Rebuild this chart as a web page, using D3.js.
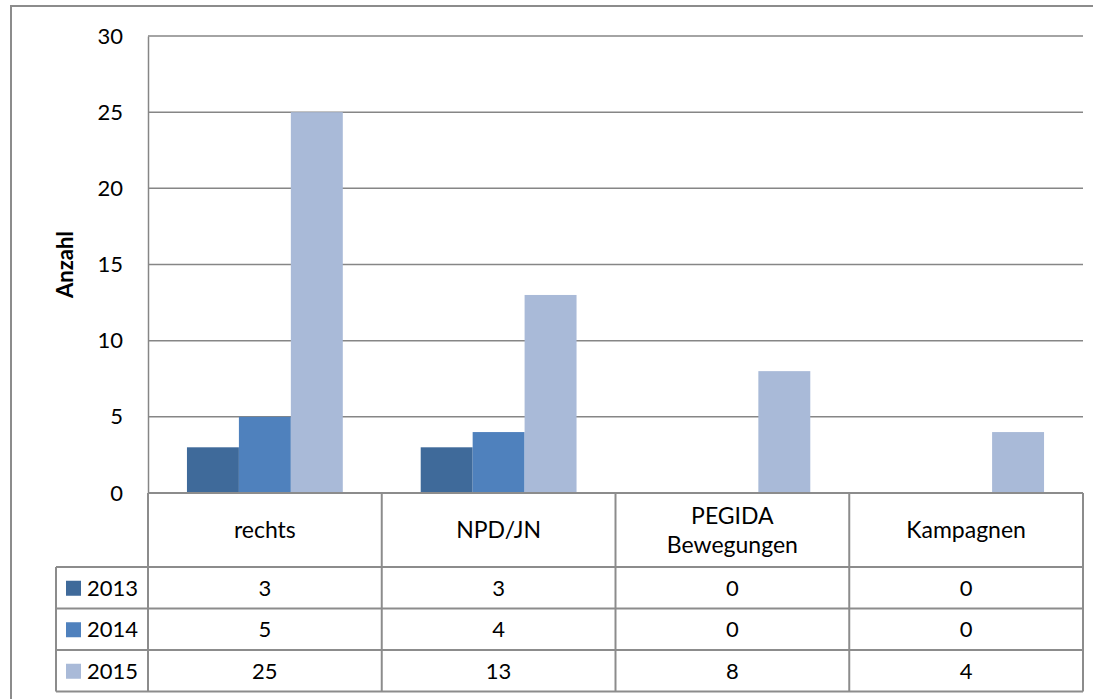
<!DOCTYPE html>
<html>
<head>
<meta charset="utf-8">
<script src="https://cdn.jsdelivr.net/npm/d3@7"></script>
<style>
  body { margin: 0; background: #fff; }
  text { font-family: Lato, "Open Sans", sans-serif; fill: #000; }
</style>
</head>
<body>
<div id="chart"></div>
<script>
var categories = ["rechts", "NPD/JN", "PEGIDA\nBewegungen", "Kampagnen"];
var years = ["2013", "2014", "2015"];
var v2013 = [3, 3, 0, 0];
var v2014 = [5, 4, 0, 0];
var v2015 = [25, 13, 8, 4];
var yTicks = [0, 5, 10, 15, 20, 25, 30];
var colors = ["#3f6a9a", "#4f81bd", "#a9bad8"];

var series = [v2013, v2014, v2015];
var width = 1093, height = 699;
var plotL = 148, plotR = 1083, plotT = 36, plotB = 493;
var rowH = [74, 41.5, 41.5, 41.5];
var fs = "22px";

var svg = d3.select("#chart").append("svg")
    .attr("width", width)
    .attr("height", height);

// chart border (runs off the page on the right and bottom)
svg.append("rect")
    .attr("x", 11).attr("y", 6)
    .attr("width", 1100).attr("height", 720)
    .attr("fill", "none").attr("stroke", "#8c8c8c").attr("stroke-width", 2);

var y = d3.scaleLinear().domain([0, 30]).range([plotB, plotT]);
var x0 = d3.scaleBand().domain(d3.range(categories.length)).range([plotL, plotR]);
var x1 = d3.scaleBand().domain(d3.range(years.length))
    .range([0, x0.bandwidth()]).paddingOuter(0.75).paddingInner(0);

// gridlines
svg.append("g").selectAll("line")
    .data(yTicks.filter(function(d) { return d > 0; }))
  .enter().append("line")
    .attr("x1", plotL).attr("x2", plotR)
    .attr("y1", function(d) { return y(d); })
    .attr("y2", function(d) { return y(d); })
    .attr("stroke", "#868686").attr("stroke-width", 1.5);

// bars
var groups = svg.append("g").selectAll("g")
    .data(series)
  .enter().append("g")
    .attr("fill", function(d, i) { return colors[i]; });

groups.each(function(vals, si) {
  d3.select(this).selectAll("rect")
      .data(vals)
    .enter().append("rect")
      .attr("x", function(d, ci) { return x0(ci) + x1(si); })
      .attr("width", x1.bandwidth())
      .attr("y", function(d) { return y(d); })
      .attr("height", function(d) { return y(0) - y(d); });
});

// y axis
var yAxis = d3.axisLeft(y).tickValues(yTicks).tickSize(0).tickPadding(25);
var ga = svg.append("g").attr("transform", "translate(" + plotL + ",0)").call(yAxis);
ga.select(".domain").attr("stroke", "#868686").attr("stroke-width", 1.5);
ga.selectAll("text").style("font-size", fs).style("font-family", "Lato, sans-serif").attr("fill", "#000");

svg.append("text")
    .attr("transform", "translate(73," + ((plotT + plotB) / 2) + ") rotate(-90)")
    .attr("text-anchor", "middle")
    .style("font-size", "22px").style("font-weight", "bold")
    .text("Anzahl");

// data table
var t = svg.append("g").attr("stroke", "#8c8c8c").attr("stroke-width", 2).attr("fill", "none");
var rowY = [plotB];
rowH.forEach(function(h, i) { rowY.push(rowY[i] + h); });

d3.range(categories.length + 1).forEach(function(i) {
  var xx = i < categories.length ? x0(i) : plotR;
  t.append("line").attr("x1", xx).attr("x2", xx).attr("y1", plotB).attr("y2", rowY[4]);
});
t.append("line").attr("x1", plotL).attr("x2", plotR).attr("y1", plotB).attr("y2", plotB);
[1, 2, 3, 4].forEach(function(r) {
  t.append("line").attr("x1", 56).attr("x2", plotR).attr("y1", rowY[r]).attr("y2", rowY[r]);
});
t.append("line").attr("x1", 56).attr("x2", 56).attr("y1", rowY[1]).attr("y2", rowY[4]);

// category labels
categories.forEach(function(c, i) {
  var lines = c.split("\n");
  var cx = x0(i) + x0.bandwidth() / 2;
  var cy = plotB + rowH[0] / 2;
  var tx = svg.append("text").attr("text-anchor", "middle").style("font-size", "23px");
  lines.forEach(function(l, k) {
    tx.append("tspan").attr("x", cx)
      .attr("y", cy + 8 + (k - (lines.length - 1) / 2) * 29)
      .text(l);
  });
});

// value rows with legend keys
series.forEach(function(vals, si) {
  var ry = rowY[si + 1] + rowH[si + 1] / 2 + 8;
  svg.append("rect")
      .attr("x", 66).attr("y", ry - 15).attr("width", 15).attr("height", 15)
      .attr("fill", colors[si]);
  svg.append("text").attr("x", 87).attr("y", ry)
      .style("font-size", fs).text(years[si]);
  vals.forEach(function(v, ci) {
    svg.append("text")
        .attr("x", x0(ci) + x0.bandwidth() / 2).attr("y", ry)
        .attr("text-anchor", "middle").style("font-size", fs)
        .text(v);
  });
});
</script>
</body>
</html>
